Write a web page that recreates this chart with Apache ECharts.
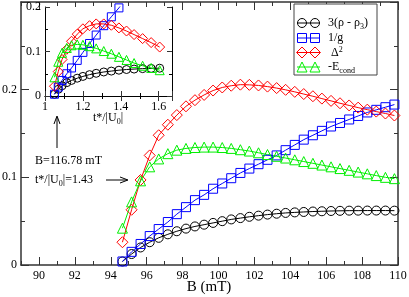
<!DOCTYPE html>
<html>
<head>
<meta charset="utf-8">
<script src="https://cdn.jsdelivr.net/npm/echarts@6.0.0/dist/echarts.min.js"></script>
<style>
html,body{margin:0;padding:0;background:#fff;}
#chart{width:409px;height:297px;}
</style>
</head>
<body>
<div id="chart"></div>
<script>
// ---- main panel data (B in mT) ----
const fieldB = [94.65, 95.16, 95.66, 96.17, 96.67, 97.18, 97.68, 98.19, 98.69, 99.2, 99.7, 100.21, 100.71, 101.22, 101.72, 102.23, 102.73, 103.24, 103.74, 104.25, 104.75, 105.26, 105.76, 106.27, 106.77, 107.28, 107.78, 108.29, 108.79, 109.3, 109.8];
const rhoDiff = [0.004, 0.0125, 0.020, 0.026, 0.031, 0.035, 0.0385, 0.0415, 0.044, 0.046, 0.048, 0.050, 0.052, 0.0535, 0.055, 0.0563, 0.0575, 0.0585, 0.0594, 0.060, 0.0605, 0.061, 0.0613, 0.0616, 0.0618, 0.062, 0.062, 0.0621, 0.0621, 0.0621, 0.062];
const invG = [0.004, 0.015, 0.024, 0.033, 0.041, 0.049, 0.058, 0.066, 0.074, 0.080, 0.087, 0.093, 0.099, 0.105, 0.110, 0.115, 0.120, 0.125, 0.131, 0.137, 0.143, 0.148, 0.153, 0.158, 0.162, 0.166, 0.170, 0.174, 0.177, 0.180, 0.183];
const delta2 = [0.026, 0.063, 0.097, 0.125, 0.148, 0.160, 0.171, 0.181, 0.188, 0.194, 0.199, 0.2025, 0.2045, 0.2057, 0.2055, 0.2048, 0.2035, 0.2018, 0.1998, 0.1975, 0.195, 0.1925, 0.1898, 0.1872, 0.1845, 0.182, 0.1795, 0.1772, 0.175, 0.1728, 0.1705];
const eCond = [0.042, 0.072, 0.096, 0.112, 0.121, 0.127, 0.131, 0.133, 0.134, 0.1345, 0.1345, 0.134, 0.133, 0.1315, 0.130, 0.128, 0.126, 0.124, 0.122, 0.120, 0.118, 0.116, 0.114, 0.112, 0.110, 0.108, 0.106, 0.104, 0.102, 0.100, 0.0985];

// ---- inset data (t*/|U0|) ----
const tRatio = [1.05, 1.07, 1.09, 1.115, 1.14, 1.17, 1.2, 1.235, 1.27, 1.31, 1.35, 1.39, 1.43, 1.47, 1.515, 1.56, 1.605];
const insetRho = [0.004, 0.015, 0.023, 0.030, 0.035, 0.040, 0.044, 0.048, 0.051, 0.054, 0.056, 0.058, 0.0595, 0.0605, 0.0615, 0.062, 0.0625];
const insetInvG = [0.004, 0.02, 0.035, 0.05, 0.063, 0.08, 0.098, 0.118, 0.137, 0.158, 0.178, 0.198, 0.22];
const insetDelta2 = [0.022, 0.055, 0.082, 0.105, 0.123, 0.139, 0.151, 0.158, 0.162, 0.162, 0.159, 0.153, 0.146, 0.138, 0.129, 0.12, 0.11];
const insetECond = [0.042, 0.077, 0.097, 0.108, 0.114, 0.116, 0.115, 0.112, 0.107, 0.101, 0.095, 0.088, 0.081, 0.074, 0.068, 0.063, 0.058];

// ---- tick labels ----
const xTicks = [90, 92, 94, 96, 98, 100, 102, 104, 106, 108, 110];
const yTicks = [0, 0.1, 0.2];
const insetXTicks = [1, 1.2, 1.4, 1.6];
const insetYTicks = [0, 0.1, 0.2];

const FONT = '"Liberation Serif", "DejaVu Serif", serif';
const AX = '#333';
const COLORS = {black:'#000000', blue:'#0000ff', red:'#ff0000', green:'#00ee00'};

function zip(xs, ys){ return ys.map((v,i)=>[xs[i], v]); }

function lineSeries(name, xs, ys, color, symbol, size, xi, yi){
  return {
    name, type:'line', xAxisIndex:xi, yAxisIndex:yi,
    data: zip(xs, ys), symbol, symbolSize:size, showAllSymbol:true,
    lineStyle:{color, width:1},
    itemStyle:{color:'rgba(0,0,0,0)', borderColor:color, borderWidth:1},
    emphasis:{disabled:true}, animation:false, clip:true
  };
}

const baseTick = {inside:true, lineStyle:{color:AX, width:1}};

const option = {
  animation:false,
  grid:[
    {left:21, top:2, right:11, bottom:32, containLabel:false, outerBoundsMode:'none'},
    {left:45, top:7, width:127, height:89, show:true, backgroundColor:'#fff', borderWidth:0, z:5, containLabel:false, outerBoundsMode:'none'}
  ],
  xAxis:[
    {gridIndex:0, type:'value', min:89, max:110, interval:1, position:'bottom',
     axisLine:{show:true, lineStyle:{color:AX, width:1.5}}, axisTick:Object.assign({length:4}, baseTick),
     axisLabel:{show:false}, splitLine:{show:false}},
    {gridIndex:0, type:'value', min:89, max:110, interval:1, position:'bottom',
     axisLine:{show:false}, axisTick:Object.assign({length:8, customValues:xTicks}, baseTick),
     axisLabel:{customValues:xTicks, fontFamily:FONT, fontSize:12, color:'#000', margin:5},
     splitLine:{show:false}},
    {gridIndex:0, type:'value', min:89, max:110, interval:1, position:'top',
     axisLine:{show:true, lineStyle:{color:AX, width:1.5}}, axisTick:Object.assign({length:4}, baseTick),
     axisLabel:{show:false}, splitLine:{show:false}},
    {gridIndex:0, type:'value', min:89, max:110, interval:1, position:'top',
     axisLine:{show:false}, axisTick:Object.assign({length:8, customValues:xTicks}, baseTick),
     axisLabel:{show:false}, splitLine:{show:false}},
    {gridIndex:1, type:'value', min:1, max:1.67, interval:0.2, position:'bottom', z:6,
     axisLine:{show:true, lineStyle:{color:'#000', width:1}},
     axisTick:Object.assign({length:5}, baseTick), minorTick:{show:true, splitNumber:2, length:3, lineStyle:{color:'#000'}},
     axisLabel:{customValues:insetXTicks, fontFamily:FONT, fontSize:12, color:'#000', margin:5},
     splitLine:{show:false}},
    {gridIndex:1, type:'value', min:1, max:1.67, interval:0.2, position:'top', z:6,
     axisLine:{show:true, lineStyle:{color:'#000', width:1}},
     axisTick:Object.assign({length:5}, baseTick), minorTick:{show:true, splitNumber:2, length:3, lineStyle:{color:'#000'}},
     axisLabel:{show:false}, splitLine:{show:false}}
  ],
  yAxis:[
    {gridIndex:0, type:'value', min:0, max:0.3, interval:0.1, position:'left',
     axisLine:{show:true, lineStyle:{color:AX, width:1.5}}, axisTick:Object.assign({length:8}, baseTick),
     minorTick:{show:true, splitNumber:2, length:4, lineStyle:{color:AX}},
     axisLabel:{customValues:yTicks, fontFamily:FONT, fontSize:12, color:'#000', margin:4},
     splitLine:{show:false}},
    {gridIndex:0, type:'value', min:0, max:0.3, interval:0.1, position:'right',
     axisLine:{show:true, lineStyle:{color:AX, width:1.5}}, axisTick:Object.assign({length:8}, baseTick),
     minorTick:{show:true, splitNumber:2, length:4, lineStyle:{color:AX}},
     axisLabel:{show:false}, splitLine:{show:false}},
    {gridIndex:1, type:'value', min:0, max:0.2, interval:0.1, position:'left', z:6,
     axisLine:{show:true, lineStyle:{color:'#000', width:1}},
     axisTick:Object.assign({length:5}, baseTick), minorTick:{show:true, splitNumber:2, length:3, lineStyle:{color:'#000'}},
     axisLabel:{customValues:insetYTicks, fontFamily:FONT, fontSize:12, color:'#000', margin:4},
     splitLine:{show:false}},
    {gridIndex:1, type:'value', min:0, max:0.2, interval:0.1, position:'right', z:6,
     axisLine:{show:true, lineStyle:{color:'#000', width:1}},
     axisTick:Object.assign({length:5}, baseTick), minorTick:{show:true, splitNumber:2, length:3, lineStyle:{color:'#000'}},
     axisLabel:{show:false}, splitLine:{show:false}}
  ],
  series:[
    lineSeries('3(ρ - ρ3)', fieldB, rhoDiff, COLORS.black, 'circle', 9, 0, 0),
    lineSeries('1/g', fieldB, invG, COLORS.blue, 'rect', 9, 0, 0),
    lineSeries('Δ2', fieldB, delta2, COLORS.red, 'diamond', 11, 0, 0),
    lineSeries('-Econd', fieldB, eCond, COLORS.green, 'triangle', 10, 0, 0),
    Object.assign(lineSeries('i-rho', tRatio, insetRho, COLORS.black, 'circle', 8, 4, 2), {z:7}),
    Object.assign(lineSeries('i-g', tRatio.slice(0, insetInvG.length), insetInvG, COLORS.blue, 'rect', 8, 4, 2), {z:7}),
    Object.assign(lineSeries('i-d', tRatio, insetDelta2, COLORS.red, 'diamond', 10, 4, 2), {z:7}),
    Object.assign(lineSeries('i-e', tRatio, insetECond, COLORS.green, 'triangle', 9, 4, 2), {z:7})
  ],
  graphic:[]
};

// legend (xmgrace style: two symbols joined by a line)
const legendRows = [
  {y:23, color:COLORS.black, shape:'circle', text:'3(ρ - ρ{sub|3})'},
  {y:38, color:COLORS.blue, shape:'rect', text:'1/g'},
  {y:52.5, color:COLORS.red, shape:'diamond', text:' Δ{sup|2}'},
  {y:67, color:COLORS.green, shape:'triangle', text:'-E{sub|cond}'}
];
const g = option.graphic;
g.push({type:'rect', shape:{x:294, y:4, width:83, height:71}, style:{fill:'#fff', stroke:'#444', lineWidth:1}, z:20});
function symbolGraphic(shape, cx, cy, color){
  const st = {fill:'none', stroke:color, lineWidth:1};
  if (shape==='circle') return {type:'circle', shape:{cx, cy, r:4.5}, style:st, z:22};
  if (shape==='rect') return {type:'rect', shape:{x:cx-4.5, y:cy-4.5, width:9, height:9}, style:st, z:22};
  if (shape==='diamond') return {type:'polygon', shape:{points:[[cx,cy-5.5],[cx+5.5,cy],[cx,cy+5.5],[cx-5.5,cy]]}, style:st, z:22};
  return {type:'polygon', shape:{points:[[cx,cy-5],[cx+5,cy+5],[cx-5,cy+5]]}, style:st, z:22};
}
legendRows.forEach(r=>{
  g.push({type:'line', shape:{x1:297, y1:r.y, x2:320, y2:r.y}, style:{stroke:r.color, lineWidth:1}, z:21});
  g.push(symbolGraphic(r.shape, 302, r.y, r.color));
  g.push(symbolGraphic(r.shape, 315, r.y, r.color));
  g.push({type:'text', x:328, y:r.y, z:22, style:{text:r.text, fill:'#000', fontFamily:FONT, fontSize:12, verticalAlign:'middle',
    rich:{sub:{fontFamily:FONT, fontSize:8, verticalAlign:'bottom', padding:[7,0,0,0]}, sup:{fontFamily:FONT, fontSize:8, verticalAlign:'top', padding:[0,0,6,0]}}}});
});

// axis titles
g.push({type:'text', x:209, y:287, z:20, style:{text:'B (mT)', fill:'#000', fontFamily:FONT, fontSize:15, align:'center', verticalAlign:'middle'}});
g.push({type:'text', x:108, y:118, z:20, style:{text:'t*/|U{s|0}|', fill:'#000', fontFamily:FONT, fontSize:12, align:'center', verticalAlign:'middle',
  rich:{s:{fontFamily:FONT, fontSize:8, verticalAlign:'bottom', padding:[7,0,0,0]}}}});

// annotations
g.push({type:'text', x:35, y:161, z:20, style:{text:'B=116.78 mT', fill:'#000', fontFamily:FONT, fontSize:12, verticalAlign:'middle'}});
g.push({type:'text', x:35, y:180, z:20, style:{text:'t*/|U{s|0}|=1.43', fill:'#000', fontFamily:FONT, fontSize:12, verticalAlign:'middle',
  rich:{s:{fontFamily:FONT, fontSize:8, verticalAlign:'bottom', padding:[7,0,0,0]}}}});
g.push({type:'line', shape:{x1:57, y1:148, x2:57, y2:117}, style:{stroke:'#000', lineWidth:1}, z:20});
g.push({type:'polyline', shape:{points:[[54,124],[57,116],[60,124]]}, style:{stroke:'#000', lineWidth:1, fill:'none'}, z:20});
g.push({type:'line', shape:{x1:106, y1:180, x2:127, y2:180}, style:{stroke:'#000', lineWidth:1}, z:20});
g.push({type:'polyline', shape:{points:[[120,177],[128,180],[120,183]]}, style:{stroke:'#000', lineWidth:1, fill:'none'}, z:20});

const chart = echarts.init(document.getElementById('chart'), null, {renderer:'canvas'});
chart.setOption(option);
</script>
</body>
</html>
